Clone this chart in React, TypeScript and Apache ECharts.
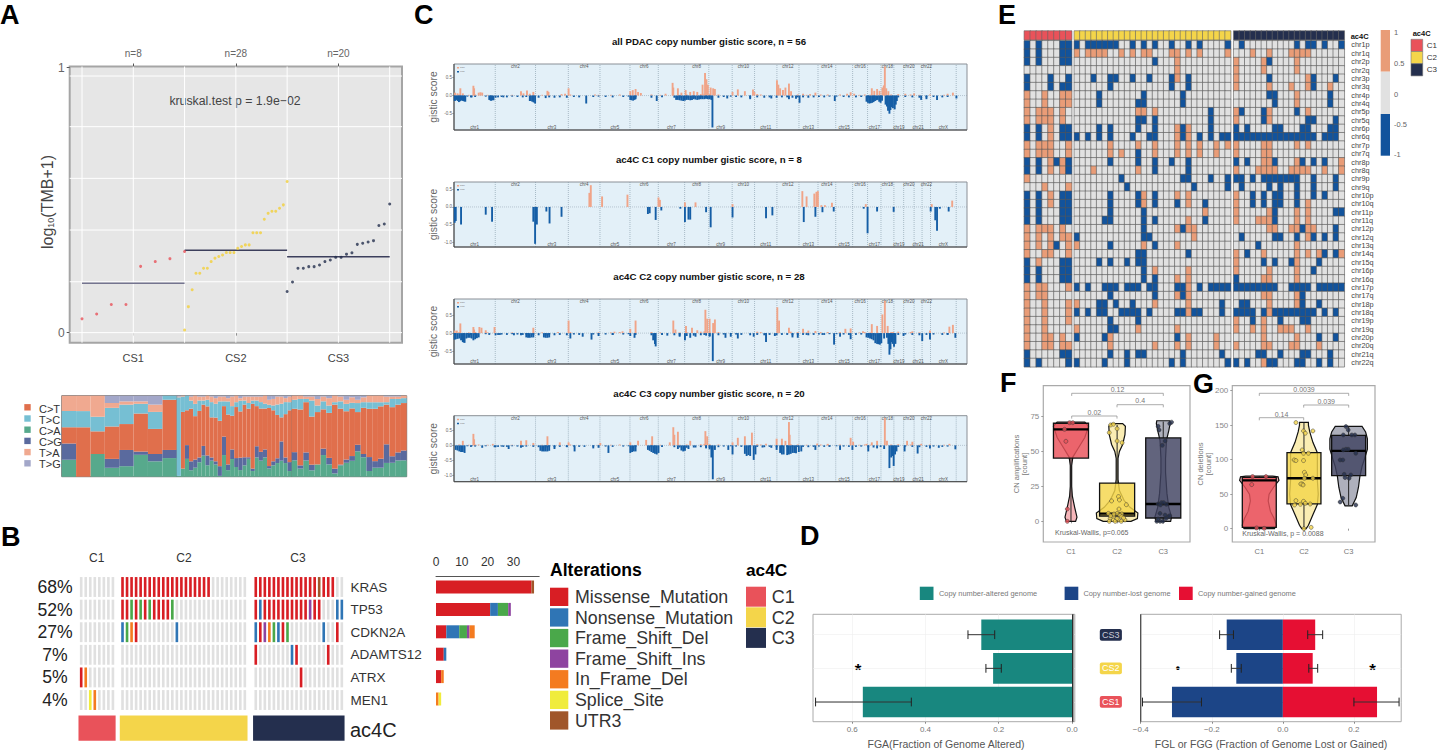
import React, { useEffect, useRef } from "react";
import * as echarts from "echarts";

const FF = "'Liberation Sans', Arial, sans-serif";
const C1 = "#e9525a", C2 = "#f4d54a", C3 = "#242f4e";

// ---------- Panel A ----------
const tmbC1 = [0.052, 0.07, 0.106, 0.106, 0.25, 0.268, 0.279, 0.306];
const tmbC2 = [0.01, 0.098, 0.162, 0.224, 0.224, 0.243, 0.243, 0.268, 0.281, 0.287, 0.293, 0.302, 0.302, 0.302, 0.318, 0.325, 0.331, 0.331, 0.377, 0.377, 0.377, 0.428, 0.45, 0.458, 0.458, 0.469, 0.482, 0.57];
const tmbC3 = [0.155, 0.191, 0.243, 0.243, 0.249, 0.249, 0.255, 0.268, 0.274, 0.284, 0.284, 0.296, 0.301, 0.333, 0.337, 0.342, 0.347, 0.404, 0.41, 0.485];
const tmbMeans = [0.186, 0.311, 0.286];
const tmbGridY = [0, 0.192, 0.387, 0.582, 0.777, 0.968];
const tmbGridX = [0.5, 1, 1.5, 2, 2.5, 3, 3.5];
const csNames = ["CS1", "CS2", "CS3"];
const csN = ["n=8", "n=28", "n=20"];
const substNames = ["C>A", "C>G", "C>T", "T>C", "T>A", "T>G"];
const substColors = ["#57a98c", "#5a6a9e", "#e06f4c", "#76bfd3", "#f0a990", "#a3a7c9"];
const substLegend = [["C>T", "#e06f4c"], ["T>C", "#76bfd3"], ["C>A", "#57a98c"], ["C>G", "#5a6a9e"], ["T>A", "#f0a990"], ["T>G", "#a3a7c9"]];
const substC1 = [[21, 20, 20, 20, 19, 0], [0, 0, 61, 20, 19, 0], [28, 0, 28, 18, 26, 0], [11, 11, 40, 23, 6, 9], [13, 20, 32, 24, 4, 7], [27, 4, 47, 12, 3, 7], [19, 9, 31, 21, 9, 11], [23, 10, 62, 5, 0, 0]];
const substC2 = [[1, 0, 0, 97, 1, 1], [10, 0, 70, 19, 1, 0], [22, 17, 43, 18, 0, 0], [8, 11, 65, 10, 5, 1], [11, 10, 53, 15, 10, 0], [18, 6, 58, 13, 5, 1], [26, 12, 51, 5, 5, 1], [14, 12, 60, 8, 5, 0], [20, 4, 50, 19, 7, 1], [15, 4, 54, 17, 7, 3], [1, 12, 56, 24, 6, 1], [27, 23, 38, 6, 6, 1], [8, 7, 61, 16, 4, 3], [22, 12, 42, 12, 12, 1], [12, 11, 63, 6, 8, 0], [8, 15, 56, 13, 3, 3], [14, 10, 65, 5, 5, 1], [22, 2, 60, 7, 8, 1], [7, 3, 80, 4, 5, 1], [24, 14, 50, 7, 5, 1], [20, 11, 54, 8, 7, 1], [24, 10, 51, 6, 10, 0], [10, 3, 71, 4, 6, 5], [14, 5, 63, 6, 8, 4], [17, 6, 54, 13, 10, 1], [20, 24, 30, 17, 9, 1], [17, 7, 54, 15, 5, 3], [7, 11, 64, 10, 7, 1]];
const substC3 = [[20, 10, 53, 11, 5, 0], [10, 4, 69, 13, 4, 0], [20, 10, 62, 4, 3, 1], [8, 7, 60, 20, 5, 1], [15, 0, 64, 8, 8, 4], [27, 8, 49, 10, 6, 1], [15, 8, 55, 9, 9, 3], [4, 6, 79, 3, 8, 0], [14, 1, 69, 9, 6, 1], [17, 4, 59, 9, 5, 5], [20, 6, 60, 7, 7, 2], [31, 8, 40, 11, 4, 5], [24, 4, 57, 7, 6, 2], [7, 17, 59, 8, 8, 0], [11, 8, 64, 8, 8, 0], [11, 11, 64, 5, 8, 0], [17, 23, 49, 3, 7, 1], [17, 8, 60, 10, 3, 1], [20, 10, 59, 7, 3, 1], [20, 12, 58, 6, 3, 0]];

// ---------- Panel B ----------
const genes = ["KRAS", "TP53", "CDKN2A", "ADAMTS12", "ATRX", "MEN1"];
const genePct = ["68%", "52%", "27%", "7%", "5%", "4%"];
const altNames = ["Missense_Mutation", "Nonsense_Mutation", "Frame_Shift_Del", "Frame_Shift_Ins", "In_Frame_Del", "Splice_Site", "UTR3"];
const altColors = ["#d81e24", "#2f75b5", "#4aa84a", "#8e44a0", "#f47b20", "#f0ec3c", "#a0562a"];
// [gene, group, sample, alteration]
const oncoCalls = [
  ...[0, 1, 2, 3, 4, 5, 6, 7, 8, 9, 10, 11, 12, 13, 14, 15, 16, 17, 18, 19].map((s) => [0, 1, s, 0]),
  ...[0, 1, 2, 3, 4, 5, 6, 7, 8, 9, 10, 11, 12, 13, 15, 16, 17].map((s) => [0, 2, s, 0]), [0, 2, 14, 6],
  [1, 1, 0, 0], [1, 1, 1, 0], [1, 1, 2, 2], [1, 1, 3, 0], [1, 1, 4, 2], [1, 1, 5, 0], [1, 1, 6, 2], [1, 1, 7, 0], [1, 1, 8, 0], [1, 1, 9, 0], [1, 1, 10, 0], [1, 1, 11, 2],
  [1, 2, 0, 0], [1, 2, 1, 1], [1, 2, 2, 0], [1, 2, 3, 0], [1, 2, 4, 0], [1, 2, 5, 0], [1, 2, 6, 0], [1, 2, 7, 0], [1, 2, 8, 0], [1, 2, 9, 0], [1, 2, 10, 0], [1, 2, 11, 0], [1, 2, 12, 3], [1, 2, 13, 0], [1, 2, 14, 0], [1, 2, 18, 1], [1, 2, 19, 1],
  [2, 1, 0, 1], [2, 1, 1, 2], [2, 1, 2, 4], [2, 1, 3, 0], [2, 1, 12, 1],
  [2, 2, 0, 1], [2, 2, 1, 0], [2, 2, 2, 3], [2, 2, 3, 4], [2, 2, 4, 2], [2, 2, 5, 1], [2, 2, 6, 0], [2, 2, 7, 2], [2, 2, 15, 1], [2, 2, 18, 0],
  [3, 2, 0, 0], [3, 2, 8, 1], [3, 2, 9, 0], [3, 2, 16, 0],
  [4, 0, 0, 0], [4, 0, 1, 4], [4, 2, 10, 0],
  [5, 0, 2, 5], [5, 0, 3, 4],
];
const groupSizes = [8, 28, 20];
const groupOffsets = [0, 9.12, 38.54];
const altCounts = [
  [37, 0, 0, 0, 0, 0, 1], [21, 3, 4, 1, 0, 0, 0], [4, 5, 3, 1, 2, 0, 0], [3, 1, 0, 0, 0, 0, 0], [2, 0, 0, 0, 1, 0, 0], [0, 0, 0, 0, 1, 1, 0],
];
const altTicks = [0, 10, 20, 30];

// ---------- Panel C (genome position in bins of 2.128 Mb) ----------
const chrMb = [249, 243, 198, 191, 181, 171, 159, 146, 141, 135, 135, 133, 115, 107, 102, 90, 81, 78, 59, 63, 48, 51, 155];
const chrNames = ["chr1", "chr2", "chr3", "chr4", "chr5", "chr6", "chr7", "chr8", "chr9", "chr10", "chr11", "chr12", "chr13", "chr14", "chr15", "chr16", "chr17", "chr18", "chr19", "chr20", "chr21", "chr22", "chrX"];
const mbPerBin = 2.128;
const lowDel = [[38, -0.03], [48, -0.05], [60, -0.04], [90, -0.03], [118, -0.06], [125, -0.05], [135, -0.04], [150, -0.05], [165, -0.03], [180, -0.04], [195, -0.05], [205, -0.04], [225, -0.05], [240, -0.06], [260, -0.07], [270, -0.05], [285, -0.06], [300, -0.05], [320, -0.06], [340, -0.04], [355, -0.05], [395, -0.04], [410, -0.03], [430, -0.04], [450, -0.05], [480, -0.04], [495, -0.03], [515, -0.05], [560, -0.06], [590, -0.05], [625, -0.06], [640, -0.07], [660, -0.08], [680, -0.07], [700, -0.06], [715, -0.07], [725, -0.08], [750, -0.06], [765, -0.04], [785, -0.03], [800, -0.04], [815, -0.05], [840, -0.06], [860, -0.05], [880, -0.06], [895, -0.05], [915, -0.06], [930, -0.05], [945, -0.05], [960, -0.06], [975, -0.05], [990, -0.05], [1005, -0.06], [1020, -0.05], [1035, -0.04], [1050, -0.05], [1065, -0.03], [1085, -0.03], [1105, -0.04], [1120, -0.05], [1140, -0.05], [1155, -0.04], [1175, -0.06], [1190, -0.07], [1210, -0.05], [1260, -0.05], [1280, -0.04], [1300, -0.05], [1320, -0.06], [1340, -0.05], [1360, -0.04], [1385, -0.05], [1400, -0.04]];
const lowAmp = [[15, 0.03], [42, 0.02], [60, 0.03], [95, 0.02], [165, 0.02], [250, 0.02], [330, 0.03], [410, 0.02], [445, 0.02], [470, 0.03], [560, 0.03], [585, 0.02], [640, 0.02], [660, 0.03], [700, 0.04], [710, 0.05], [725, 0.04], [750, 0.03], [860, 0.04], [870, 0.03], [955, 0.04], [975, 0.03], [1000, 0.02], [1040, 0.03], [1060, 0.03], [1095, 0.03], [1150, 0.02], [1165, 0.03], [1180, 0.02], [1240, 0.03], [1260, 0.04], [1295, 0.03], [1320, 0.02], [1350, 0.03], [1390, 0.02]];
const gainAll = [[3, 0.08], [10, 0.06], [18, 0.2], [25, 0.06], [55, 0.27], [57, 0.2], [70, 0.08], [75, 0.09], [80, 0.08], [190, 0.12], [197, 0.06], [207, 0.14], [215, 0.05], [225, 0.1], [265, 0.13], [268, 0.1], [305, 0.04], [315, 0.05], [325, 0.2], [400, 0.03], [500, 0.12], [507, 0.15], [515, 0.18], [522, 0.1], [530, 0.07], [600, 0.05], [620, 0.35], [622, 0.22], [635, 0.2], [645, 0.08], [657, 0.15], [670, 0.1], [680, 0.12], [690, 0.1], [705, 0.3], [712, 0.62], [716, 0.45], [720, 0.3], [728, 0.22], [735, 0.2], [740, 0.18], [790, 0.1], [805, 0.17], [825, 0.12], [848, 0.17], [852, 0.1], [916, 0.42], [920, 0.3], [925, 0.2], [933, 0.15], [940, 0.22], [950, 0.33], [956, 0.12], [990, 0.05], [1010, 0.04], [1025, 0.08], [1115, 0.05], [1125, 0.09], [1135, 0.05], [1185, 0.2], [1192, 0.13], [1200, 0.18], [1207, 0.13], [1215, 0.22], [1219, 0.28], [1222, 0.8], [1226, 0.2], [1232, 0.12], [1280, 0.05], [1305, 0.06], [1400, 0.05], [1415, 0.08]];
const lossAll = [[2, -0.15], [8, -0.12], [14, -0.18], [20, -0.13], [26, -0.15], [32, -0.17], [50, -0.05], [100, -0.12], [105, -0.14], [112, -0.13], [140, -0.05], [215, -0.15], [222, -0.17], [230, -0.22], [375, -0.22], [500, -0.12], [508, -0.14], [515, -0.1], [575, -0.15], [630, -0.12], [640, -0.13], [650, -0.15], [660, -0.12], [670, -0.13], [680, -0.1], [690, -0.12], [700, -0.1], [715, -0.09], [725, -0.1], [733, -0.88], [775, -0.08], [840, -0.1], [900, -0.08], [950, -0.1], [970, -0.09], [980, -0.2], [1080, -0.15], [1170, -0.17], [1178, -0.22], [1186, -0.2], [1194, -0.15], [1202, -0.12], [1210, -0.2], [1228, -0.3], [1235, -0.5], [1242, -0.32], [1250, -0.38], [1256, -0.15], [1325, -0.12], [1340, -0.1], [1370, -0.12], [1425, -0.08]];
const denseAll = [[4, -0.14], [11, -0.15], [17, -0.16], [23, -0.14], [29, -0.16], [103, -0.13], [108, -0.13], [218, -0.15], [226, -0.19], [503, -0.13], [512, -0.12], [635, -0.12], [645, -0.14], [655, -0.14], [665, -0.12], [675, -0.12], [685, -0.11], [695, -0.11], [705, -0.1], [710, -0.1], [720, -0.1], [730, -0.12], [1174, -0.2], [1182, -0.21], [1190, -0.18], [1198, -0.13], [1206, -0.17], [1214, -0.14], [1224, -0.25], [1231, -0.42], [1238, -0.4], [1245, -0.35], [1253, -0.25]];
const gainC1 = [[388, 0.62], [384, 0.4], [420, 0.3], [492, 0.35], [580, 0.27], [584, 0.2], [655, 0.13], [685, 0.13], [790, 0.08], [988, 0.45], [1000, 0.3], [1022, 0.38], [1028, 0.43], [1032, 0.45], [1042, 0.05], [1052, 0.05], [1072, 0.12], [1168, 0.08], [1355, 0.08], [1413, 0.18]];
const lossC1 = [[2, -0.45], [5, -0.4], [20, -0.5], [90, -0.22], [108, -0.42], [225, -0.42], [230, -1.05], [235, -0.5], [262, -0.13], [271, -0.47], [305, -0.28], [550, -0.2], [555, -0.18], [572, -0.37], [588, -0.1], [642, -0.05], [655, -0.43], [665, -0.36], [670, -0.36], [715, -0.15], [728, -0.58], [790, -0.3], [885, -0.32], [903, -0.24], [992, -0.43], [1025, -0.28], [1045, -0.15], [1077, -0.13], [1162, -0.05], [1173, -0.75], [1200, -0.13], [1247, -0.14], [1352, -0.13], [1365, -0.38], [1370, -0.68], [1378, -0.05], [1403, -0.13]];
const gainC2 = [[2, 0.07], [8, 0.07], [18, 0.27], [55, 0.17], [57, 0.1], [72, 0.17], [78, 0.15], [90, 0.08], [115, 0.17], [225, 0.15], [295, 0.03], [325, 0.35], [455, 0.04], [478, 0.05], [500, 0.12], [515, 0.35], [622, 0.35], [628, 0.1], [658, 0.2], [675, 0.15], [690, 0.08], [713, 0.65], [718, 0.4], [725, 0.4], [735, 0.28], [740, 0.38], [917, 0.72], [922, 0.35], [950, 0.15], [990, 0.12], [1005, 0.07], [1025, 0.06], [1110, 0.12], [1125, 0.13], [1160, 0.05], [1185, 0.25], [1200, 0.2], [1215, 0.52], [1222, 0.9], [1230, 0.2], [1245, 0.03], [1300, 0.05], [1350, 0.07], [1405, 0.18], [1415, 0.23]];
const lossC2 = [[1, -0.18], [5, -0.17], [15, -0.15], [25, -0.25], [30, -0.27], [40, -0.13], [55, -0.2], [70, -0.12], [100, -0.05], [130, -0.05], [170, -0.06], [190, -0.06], [210, -0.13], [225, -0.12], [260, -0.13], [330, -0.15], [365, -0.1], [390, -0.18], [410, -0.08], [450, -0.05], [500, -0.08], [512, -0.13], [572, -0.37], [605, -0.07], [640, -0.1], [655, -0.2], [670, -0.13], [685, -0.1], [710, -0.05], [725, -0.1], [734, -0.78], [770, -0.13], [785, -0.1], [805, -0.15], [850, -0.1], [885, -0.25], [910, -0.08], [960, -0.12], [975, -0.13], [1000, -0.05], [1045, -0.05], [1078, -0.32], [1095, -0.1], [1125, -0.17], [1175, -0.13], [1185, -0.17], [1200, -0.3], [1208, -0.32], [1228, -0.13], [1235, -0.6], [1240, -0.25], [1248, -0.38], [1275, -0.08], [1328, -0.22], [1350, -0.18], [1400, -0.05], [1422, -0.13]];
const denseC2 = [[3, -0.17], [10, -0.16], [20, -0.2], [28, -0.26], [35, -0.15], [45, -0.13], [50, -0.15], [60, -0.17], [65, -0.14], [205, -0.12], [215, -0.13], [220, -0.12], [255, -0.12], [265, -0.13], [270, -0.12], [565, -0.2], [570, -0.3], [1170, -0.12], [1180, -0.15], [1190, -0.2], [1195, -0.28], [1204, -0.31], [1212, -0.28], [1220, -0.15], [1232, -0.3], [1238, -0.45], [1244, -0.3], [1252, -0.3]];
const gainC3 = [[25, 0.15], [55, 0.38], [57, 0.2], [70, 0.03], [110, 0.05], [190, 0.15], [205, 0.17], [225, 0.08], [265, 0.3], [300, 0.1], [325, 0.1], [415, 0.08], [500, 0.1], [522, 0.15], [545, 0.18], [562, 0.3], [612, 0.1], [622, 0.6], [625, 0.35], [635, 0.45], [670, 0.15], [713, 0.47], [718, 0.3], [790, 0.1], [805, 0.25], [825, 0.3], [845, 0.42], [885, 0.05], [915, 0.22], [930, 0.22], [940, 0.15], [950, 0.77], [952, 0.35], [1030, 0.06], [1060, 0.05], [1125, 0.25], [1132, 0.12], [1170, 0.05], [1185, 0.1], [1200, 0.15], [1222, 0.9], [1228, 0.15], [1285, 0.15], [1300, 0.12], [1325, 0.05], [1405, 0.05]];
const lossC3 = [[5, -0.15], [15, -0.2], [30, -0.25], [50, -0.03], [80, -0.08], [115, -0.06], [140, -0.05], [155, -0.12], [190, -0.08], [250, -0.2], [260, -0.2], [285, -0.12], [320, -0.05], [342, -0.2], [370, -0.05], [395, -0.1], [410, -0.08], [438, -0.25], [500, -0.25], [510, -0.2], [550, -0.15], [565, -0.25], [575, -0.3], [635, -0.12], [650, -0.2], [665, -0.12], [685, -0.07], [715, -0.1], [725, -0.13], [730, -0.4], [734, -1.12], [740, -0.15], [778, -0.15], [790, -0.3], [830, -0.35], [850, -0.48], [875, -0.07], [900, -0.08], [915, -0.15], [930, -0.3], [950, -0.3], [965, -0.25], [978, -0.22], [1025, -0.15], [1065, -0.05], [1095, -0.15], [1130, -0.15], [1175, -0.2], [1200, -0.1], [1220, -0.12], [1235, -0.75], [1247, -0.68], [1255, -0.2], [1278, -0.2], [1315, -0.27], [1350, -0.1], [1375, -0.08], [1422, -0.13]];
const denseC3 = [[10, -0.17], [20, -0.22], [25, -0.22], [245, -0.18], [255, -0.2], [265, -0.2], [270, -0.18], [505, -0.22], [515, -0.2], [555, -0.18], [560, -0.22], [570, -0.28], [580, -0.25], [645, -0.17], [655, -0.18], [825, -0.28], [835, -0.32], [840, -0.35], [855, -0.3], [925, -0.25], [935, -0.3], [945, -0.32], [955, -0.28], [960, -0.25], [970, -0.26], [985, -0.2], [1240, -0.4], [1243, -0.35], [1251, -0.3]];
const gisticTitles = ["all PDAC copy number gistic score, n = 56", "ac4C C1 copy number gistic score, n = 8", "ac4C C2 copy number gistic score, n = 28", "ac4C C3 copy number gistic score, n = 20"];

// ---------- Panel D ----------
const fgaMean = [0.571, 0.2154, 0.2476];
const fgaErr = [[0.4386, 0.7], [0.193, 0.235], [0.211, 0.284]];
const fglMean = [-0.312, -0.131, -0.158];
const fglErr = [[-0.395, -0.229], [-0.145, -0.117], [-0.178, -0.139]];
const fggMean = [0.265, 0.084, 0.091];
const fggErr = [[0.2, 0.327], [0.073, 0.098], [0.07, 0.112]];

// ---------- Panel E ----------
const cnaRows = ["chr1p", "chr1q", "chr2p", "chr2q", "chr3p", "chr3q", "chr4p", "chr4q", "chr5p", "chr5q", "chr6p", "chr6q", "chr7p", "chr7q", "chr8p", "chr8q", "chr9p", "chr9q", "chr10p", "chr10q", "chr11p", "chr11q", "chr12p", "chr12q", "chr13q", "chr14q", "chr15q", "chr16p", "chr16q", "chr17p", "chr17q", "chr18p", "chr18q", "chr19p", "chr19q", "chr20p", "chr20q", "chr21q", "chr22q"];
const cnaC1 = ["b.b...bb", "b.b...bb", "b.b...bb", "........", "b...b..b", "b...b.bb", "o..o..oo", "o..o..oo", "o.ooo.o.", "o.ooo.o.", "b.b.o.bb", "b.b.o.bb", "o.ooo..o", "o.ooo..o", "b.b.obob", "b.b.o.ob", "o.......", "...o...o", "b.b.o.bb", "b.b.o.bb", "b.b...bb", "b.b...bb", "o.ooo.o.", "o.o.o.oo", "o.o.ob.o", "o..oo..o", "b.o...bb", "b.b...bb", "b.b...bb", "o.oo...o", "o.oo....", "o..o...o", "o..o...o", "o..o...o", "o..o....", "o..oo.o.", "o..oo.oo", "b.....bb", "b.b....b"];
const cnaC2Loss = [[0, 2, 3, 4, 5, 6, 7, 10, 12, 14, 17, 20, 22, 27], [], [14], [], [3, 6, 7, 10, 13, 17, 20], [6, 17, 20], [4, 12, 19], [4, 11, 12, 19], [24], [11, 12, 14, 24], [4, 6, 11, 14, 19, 24], [0, 2, 4, 6, 10, 13, 14, 19, 22, 24, 26, 27], [], [11], [6, 11, 14, 17, 20], [14, 20], [8, 19, 20, 24, 27], [9, 21, 27], [6, 11, 14], [6, 11, 14, 18, 23], [6, 12], [5, 6, 12, 14, 23], [12, 19], [0, 12, 13], [6, 14], [11, 12, 20], [4, 6, 9, 11, 12], [12], [12, 14], [0, 2, 5, 6, 7, 9, 10, 11, 13, 14, 18, 19, 22, 24, 25, 26, 27], [6, 14, 19], [4, 5, 7, 10, 26], [0, 2, 4, 5, 8, 9, 10, 11, 13, 18, 19, 21, 22, 26], [6, 11], [6, 7], [0, 5, 18], [], [6, 9, 11, 12, 19, 26], [0, 5, 9, 17, 19, 27]];
const cnaC2Gain = [[], [0, 2, 3, 4, 5, 8, 10, 12, 13, 17, 18, 20, 22, 27], [18], [18], [18], [], [], [], [11, 12, 14], [], [18, 20], [18, 20], [6, 11, 14, 18, 20, 22, 25, 27], [6, 8, 14, 18, 20, 22, 25], [], [3, 11], [], [], [12, 18, 20], [12, 20], [23], [20], [18, 20, 21], [21], [0, 12, 18], [], [], [14, 20], [18, 20], [20], [18, 20], [0, 14, 20], [20], [], [0, 11, 18], [6, 20, 25], [6, 14, 18, 20, 25], [], []];
const cnaC3Loss = [[1, 11, 13, 14, 16, 19], [], [6], [], [6, 14, 18], [14], [6, 7, 17], [7, 17], [1, 5, 11], [5, 13, 14, 18], [0, 2, 7, 8, 12, 13, 17, 18], [0, 1, 2, 3, 4, 5, 6, 7, 8, 9, 10, 11, 12, 13, 14, 16, 17, 18], [], [], [0, 2, 7, 12, 14, 16], [], [0, 1, 3, 5, 6, 7, 8, 9, 10, 11, 14, 18], [1, 6, 8, 11, 14, 18], [3, 5, 7, 8, 11, 14, 16], [3, 5, 7, 8, 11], [7, 18, 19], [7], [12, 18], [1, 7, 8, 11, 14, 16, 18], [4], [2, 16, 18], [5, 7, 10, 15], [14], [0], [0, 1, 2, 3, 4, 5, 6, 7, 10, 11, 12, 13, 15, 16, 17, 18, 19], [12], [1, 2, 12, 15], [0, 1, 2, 3, 5, 7, 8, 9, 10, 11, 12, 13, 14, 16, 18], [3, 8, 12, 13], [], [15, 18], [], [4, 5, 8, 12, 13, 17], [0, 2, 6, 7, 11, 12, 15, 17]];
const cnaC3Gain = [[], [3, 6, 10, 11, 12, 13], [0, 5, 11], [0, 5, 11], [0, 13], [0, 6, 10, 13, 17], [11], [11], [0, 6, 13], [0, 6], [], [], [0, 5, 6, 11, 13], [0, 5, 6], [5, 6, 11, 19], [0, 4, 5, 6, 7, 10, 11, 12, 13, 16, 19], [], [], [0], [0, 13], [0, 6, 11, 13], [0, 4, 5, 6, 11, 13], [6, 7, 10, 11, 13, 14], [13], [11], [0, 5, 11, 13, 15, 19], [0, 11], [0, 6, 11], [5, 6, 11], [], [5, 6, 11], [6, 11], [6], [0, 5], [0, 3, 5, 8, 9, 10, 13], [5, 11], [0, 5, 6, 10, 11, 15], [], [5]];
const colorbarTicks = ["1", "0.5", "0", "-0.5", "-1"];

// ---------- Panels F, G ----------
const ampPoints = [
  [[0.97, 70.6], [1.04, 70.6], [0.86, 65.9], [0.89, 57.3], [0.92, 8.8], [0.92, 0]],
  [[1.86, 69], [1.92, 69.5], [1.83, 63.5], [2, 66.3], [2, 57.5], [2.11, 56.3], [2.03, 17.7], [2.05, 15.3], [1.88, 14.6], [2.2, 11.9], [2.04, 8.8], [1.81, 5.7], [2, 5.7], [2.1, 5.3], [2.06, 4.3], [1.92, 3.3], [2.1, 3.3], [1.85, 2.1], [1.92, 1], [2.03, 1], [2.17, 1], [1.83, 0], [1.96, 0], [2.09, 0], [2, 2], [1.86, 4], [1.93, 5.2], [2.14, 2.4]],
  [[3.18, 71], [3.14, 70], [2.89, 68], [2.91, 65.4], [3.04, 57.5], [2.98, 54.4], [2.96, 13.4], [2.89, 12.4], [3.07, 12.2], [3.11, 3.3], [3.14, 4], [3.04, 4.5], [2.86, 0], [2.93, 0], [2.99, 0], [2.89, 1.7], [3.06, 2.1], [3.01, 13.4], [2.94, 11.7], [2.93, 5.7]],
];
const delPoints = [
  [[0.85, 75.4], [1.15, 75.4], [0.83, 63.8], [0.94, 1], [1.11, 0.5]],
  [[1.82, 153.6], [1.99, 141.5], [2.03, 138.2], [2.2, 141.5], [1.96, 114], [1.99, 109.2], [2.1, 109.2], [1.78, 99.5], [1.82, 98.6], [1.99, 98.6], [2.01, 81.6], [2.04, 77.8], [2.2, 73], [2.01, 73], [1.96, 64.7], [1.93, 64.7], [1.82, 40.6], [1.99, 39.6], [2.03, 36.7], [1.79, 34.3], [1.92, 35.3], [2.14, 35.7], [2, 0], [2.16, 1.9], [1.98, 63.3]],
  [[2.94, 147.8], [2.99, 143], [2.88, 135.7], [3.14, 135.7], [2.99, 115], [2.94, 115], [3.16, 109.2], [2.81, 99.5], [2.87, 99.5], [2.9, 78.7], [2.92, 73.9], [3.01, 73], [3.05, 77.8], [2.87, 44], [2.81, 38.6], [3.16, 34.3], [3.07, 135.7], [2.88, 114]],
];
// [min, q1, median, q3, max]
const ampBox = [[0, 45.3, 65.9, 70.2, 71], [0, 3.8, 5.5, 27.4, 69], [0, 2.4, 12.4, 59.7, 71.4]];
const delBox = [[0, 2, 70, 74.4, 76], [0, 36, 73, 110, 153.6], [34, 76.8, 112.6, 135, 148]];
// [value, half width]
const ampViolin = [
  [[0, 0.1], [3, 0.13], [10, 0.08], [18, 0.03], [25, 0.015], [40, 0.015], [46, 0.04], [52, 0.15], [60, 0.3], [68, 0.38], [71, 0.3]],
  [[0, 0.3], [2, 0.44], [6, 0.45], [10, 0.28], [15, 0.15], [22, 0.05], [30, 0.02], [45, 0.02], [50, 0.05], [55, 0.12], [62, 0.17], [68, 0.18], [70, 0.12]],
  [[0, 0.16], [3, 0.18], [10, 0.12], [20, 0.08], [35, 0.05], [45, 0.05], [58, 0.07], [65, 0.12], [70, 0.15], [72, 0.14]],
];
const delViolin = [
  [[0, 0.34], [5, 0.38], [15, 0.33], [25, 0.25], [40, 0.2], [50, 0.22], [60, 0.32], [70, 0.44], [75, 0.42], [76, 0.3]],
  [[0, 0.05], [5, 0.1], [20, 0.2], [35, 0.3], [50, 0.32], [70, 0.3], [90, 0.3], [110, 0.3], [125, 0.2], [140, 0.13], [150, 0.1], [154, 0.1]],
  [[33, 0.08], [45, 0.17], [60, 0.22], [75, 0.25], [90, 0.3], [100, 0.35], [115, 0.42], [130, 0.42], [140, 0.38], [148, 0.3]],
];
const groupNames = ["C1", "C2", "C3"];

const buildOption = () => {
  const grids: any[] = [], xs: any[] = [], ys: any[] = [], series: any[] = [], g: any[] = [], topXs: any[] = [], vms: any[] = [];
  const base = { show: false, splitLine: { show: false } };
  const addGrid = (l: number, t: number, w: number, h: number, x: any, y: any, extra: any = {}) => {
    const i = grids.length;
    grids.push({ left: l, top: t, width: w, height: h, show: false, ...extra });
    xs.push({ gridIndex: i, type: "value", ...base, ...x });
    ys.push({ gridIndex: i, type: "value", ...base, ...y });
    return i;
  };
  const shapes = (grid: number, items: any[]) => {
    series.push({
      type: "custom", coordinateSystem: "cartesian2d", xAxisIndex: grid, yAxisIndex: grid, silent: true, clip: false,
      data: items.map(() => [0, 0]),
      renderItem: (p: any, api: any) => {
        const it = items[p.dataIndex];
        if (it.k === "rect") {
          const a = api.coord([it.x0, it.y0]), b = api.coord([it.x1, it.y1]);
          return { type: "rect", shape: { x: Math.min(a[0], b[0]), y: Math.min(a[1], b[1]), width: Math.abs(a[0] - b[0]), height: Math.abs(a[1] - b[1]) }, style: it.s };
        }
        if (it.k === "line") {
          const a = api.coord([it.x0, it.y0]), b = api.coord([it.x1, it.y1]);
          return { type: "line", shape: { x1: a[0], y1: a[1], x2: b[0], y2: b[1] }, style: it.s };
        }
        if (it.k === "poly") {
          return { type: "polygon", shape: { points: it.pts.map((q: number[]) => api.coord(q)) }, style: it.s };
        }
        const a = api.coord([it.x, it.y]);
        return { type: "text", x: a[0], y: a[1], style: { text: it.t, align: "center", textAlign: "center", verticalAlign: "middle", textVerticalAlign: "middle", fontFamily: FF, ...it.s } };
      },
    });
  };
  const txt = (text: string, x: number, y: number, size: number, o: any = {}) => {
    g.push({
      type: "text", x, y, silent: true, rotation: o.rot || 0,
      style: { text, fontSize: size, fontFamily: FF, fontWeight: o.bold ? "bold" : "normal", fill: o.color || "#333", align: o.align || "left", textAlign: o.align || "left", verticalAlign: "middle", textVerticalAlign: "middle", ...(o.style || {}) },
    });
  };
  const box = (x: number, y: number, w: number, h: number, fill: string, stroke?: string) => {
    g.push({ type: "rect", silent: true, shape: { x, y, width: w, height: h }, style: { fill, stroke: stroke || "none", lineWidth: stroke ? 0.6 : 0 } });
  };

  // panel letters
  [["A", 0, 15], ["B", 1, 537], ["C", 414, 15], ["D", 800, 536], ["E", 998, 15], ["F", 1000, 383], ["G", 1193, 384]].forEach(([t, x, y]: any) => txt(t, x, y, 27, { bold: true, color: "#000" }));

  // ---------- A ----------
  const a = addGrid(69.7, 66.5, 332.3, 276.2,
    { show: true, min: 0.38, max: 3.62, axisLine: { show: false }, axisTick: { length: 3, customValues: [1, 2, 3], lineStyle: { color: "#555" } }, axisLabel: { customValues: [1, 2, 3], formatter: (v: number) => csNames[v - 1], fontSize: 11, color: "#444", margin: 10 } },
    { show: true, min: -0.038, max: 1.004, axisLine: { show: false }, axisTick: { length: 3, customValues: [0, 1], lineStyle: { color: "#555" } }, axisLabel: { customValues: [0, 1], fontSize: 12, color: "#666", margin: 5 } },
    { show: true, backgroundColor: "#e6e6e6", borderColor: "#a5a5a5", borderWidth: 2 });
  shapes(a, [
    ...tmbGridX.map((x) => ({ k: "line", x0: x, x1: x, y0: -0.038, y1: 1.004, s: { stroke: "#fff", lineWidth: 1 } })),
    ...tmbGridY.map((y) => ({ k: "line", x0: 0.38, x1: 3.62, y0: y, y1: y, s: { stroke: "#fff", lineWidth: 1 } })),
    ...tmbMeans.map((m, i) => ({ k: "line", x0: i + 0.5, x1: i + 1.5, y0: m, y1: m, s: { stroke: i === 0 ? "#74748f" : "#3c3f5c", lineWidth: 1.5 } })),
  ]);
  [tmbC1, tmbC2, tmbC3].forEach((arr, gi) => {
    series.push({ type: "scatter", xAxisIndex: a, yAxisIndex: a, silent: true, symbolSize: 3, itemStyle: { color: [C1, "#f2cf3a", C3][gi] }, data: arr.map((v, i) => [gi + 0.5 + i / (arr.length - 1), v]) });
  });
  topXs.push({ gridIndex: a, type: "value", position: "top", min: 0.38, max: 3.62, splitLine: { show: false }, axisLine: { show: false }, axisTick: { length: 3, customValues: [1, 2, 3], lineStyle: { color: "#555" } }, axisLabel: { customValues: [1, 2, 3], formatter: (v: number) => csN[v - 1], fontSize: 10, color: "#666", margin: 8 } });
  txt("kruskal.test p = 1.9e\u221202", 235, 101, 12.3, { color: "#444", align: "center" });
  g.push({ type: "text", x: 47, y: 202, rotation: Math.PI / 2, silent: true, style: { text: "{a|log}{b|10}{a|(TMB+1)}", align: "center", textAlign: "center", verticalAlign: "middle", textVerticalAlign: "middle", fontFamily: FF, rich: { a: { fontSize: 16, fill: "#444", color: "#444", fontFamily: FF }, b: { fontSize: 9, fill: "#444", color: "#444", fontFamily: FF, verticalAlign: "bottom" } } } });
  substLegend.forEach(([n, c], i) => {
    box(24.3, 407.3 + i * 11.2 - 3.2, 6.4, 6.4, c);
    txt(n, 39, 409 + i * 11, 11, { color: "#333" });
  });
  [[substC1, 61.7], [substC2, 176.7], [substC3, 291.7]].forEach(([rows, left]: any) => {
    const sg = addGrid(left, 395.7, 115, 81, { type: "category", data: rows.map((_: any, i: number) => String(i)) }, { min: 0, max: 100 }, { show: true, borderColor: "#6e6e6e", borderWidth: 1 });
    substNames.forEach((n, si) => {
      series.push({ type: "bar", name: n, xAxisIndex: sg, yAxisIndex: sg, stack: "s" + sg, silent: true, barCategoryGap: 0, itemStyle: { color: substColors[si] }, data: rows.map((r: number[]) => (r[si] * 100) / r.reduce((p, q) => p + q, 0)) });
    });
  });

  // ---------- B ----------
  const onco = addGrid(76, 570, 272, 175, { min: -1.148, max: 58.9 }, { min: -0.752, max: 6.99, inverse: true });
  const stripes: any[] = [];
  genes.forEach((_, r) => groupSizes.forEach((n, gi) => {
    for (let s = 0; s < n; s++) {
      const x = groupOffsets[gi] + s;
      const call = oncoCalls.find((c) => c[0] === r && c[1] === gi && c[2] === s);
      stripes.push({ k: "rect", x0: x - 0.29, x1: x + 0.29, y0: r - 0.44, y1: r + 0.44, s: { fill: call ? altColors[call[3]] : "#e0e0e0" } });
    }
  }));
  groupSizes.forEach((n, gi) => stripes.push({ k: "rect", x0: groupOffsets[gi] - 0.6, x1: groupOffsets[gi] + n - 0.4, y0: 5.68, y1: 6.8, s: { fill: [C1, C2, C3][gi] } }));
  shapes(onco, stripes);
  genes.forEach((n, i) => {
    txt(n, 350.5, 587 + i * 22.6, 13.5, { color: "#333" });
    txt(genePct[i], 55, 587 + i * 22.6, 17.6, { color: "#222", align: "center" });
  });
  groupNames.forEach((n, i) => txt(n, [96.7, 184, 298][i], 558, 12, { color: "#333", align: "center" }));
  txt("ac4C", 350, 730, 20, { color: "#222" });

  const altG = addGrid(436, 575.8, 103.2, 134.4,
    { show: true, position: "top", min: 0, max: 40, axisLine: { show: true, lineStyle: { color: "#555" } }, axisTick: { length: 5, customValues: altTicks, lineStyle: { color: "#555" } }, axisLabel: { customValues: altTicks, fontSize: 12, color: "#333", margin: 8 } },
    { type: "category", inverse: true, data: genes });
  altNames.forEach((n, ai) => {
    series.push({ type: "bar", name: n, xAxisIndex: altG, yAxisIndex: altG, stack: "alt", silent: true, barWidth: 13, itemStyle: { color: altColors[ai] }, data: altCounts.map((r) => r[ai]) });
  });
  txt("Alterations", 550, 570, 17.6, { bold: true, color: "#000" });
  altNames.forEach((n, i) => {
    box(550, 587.7 + i * 20.6, 18.3, 18.3, altColors[i]);
    txt(n, 575, 597 + i * 20.6, 17.8, { color: "#333" });
  });
  txt("ac4C", 746, 570, 17.3, { bold: true, color: "#000" });
  groupNames.forEach((n, i) => {
    box(746, 586.7 + i * 20.6, 20, 20, [C1, C2, C3][i]);
    txt(n, 771.7, 597 + i * 20.6, 18, { color: "#333" });
  });

  // ---------- C ----------
  const ends: number[] = [];
  chrMb.reduce((acc, mb) => { ends.push(acc + mb / mbPerBin); return acc + mb / mbPerBin; }, 0);
  const gist = [
    { top: 64, bottom: 130, min: -0.95, max: 0.87, ticks: [-0.5, 0, 0.5], gain: [...gainAll, ...lowAmp], loss: [...lossAll, ...lowDel, ...denseAll] },
    { top: 182, bottom: 247, min: -1.14, max: 0.71, ticks: [-1, -0.5, 0, 0.5], gain: gainC1, loss: lossC1 },
    { top: 299, bottom: 364, min: -0.86, max: 0.95, ticks: [-0.5, 0, 0.5], gain: [...gainC2, ...lowAmp], loss: [...lossC2, ...lowDel, ...denseC2] },
    { top: 415.7, bottom: 481.7, min: -1.2, max: 0.98, ticks: [-1, -0.5, 0, 0.5], gain: [...gainC3, ...lowAmp], loss: [...lossC3, ...lowDel, ...denseC3] },
  ];
  gist.forEach((p, i) => {
    const fmt = (v: number) => v.toFixed(1);
    const gi = addGrid(454, p.top, 513, p.bottom - p.top,
      { min: 0, max: 1455 },
      { show: true, min: p.min, max: p.max, axisLine: { show: false }, axisTick: { length: 2, customValues: p.ticks, lineStyle: { color: "#777", width: 0.5 } }, axisLabel: { customValues: p.ticks, formatter: fmt, fontSize: 4.5, color: "#666", margin: 2 } },
      { show: true, backgroundColor: "#e3f0f8", borderColor: "#8a8f96", borderWidth: 1 });
    const range = p.max - p.min;
    shapes(gi, [
      ...ends.map((e) => ({ k: "line", x0: e, x1: e, y0: p.min, y1: p.max, s: { stroke: "#7f95a5", lineWidth: 0.6, lineDash: [1, 1] } })),
      { k: "line", x0: 0, x1: 1455, y0: 0, y1: 0, s: { stroke: "#8a9aa8", lineWidth: 0.5, lineDash: [1, 1] } },
      { k: "line", x0: 0, x1: 0, y0: p.min, y1: p.max, s: { stroke: "#444", lineWidth: 1 } },
      { k: "line", x0: 0, x1: 1455, y0: p.min, y1: p.min, s: { stroke: "#444", lineWidth: 1 } },
    ]);
    series.push({ type: "bar", name: "gain", xAxisIndex: gi, yAxisIndex: gi, silent: true, barWidth: 1.9, barGap: "-100%", itemStyle: { color: "#f0a488" }, data: p.gain });
    series.push({ type: "bar", name: "loss", xAxisIndex: gi, yAxisIndex: gi, silent: true, barWidth: 1.9, barGap: "-100%", itemStyle: { color: "#155ea6" }, data: p.loss });
    shapes(gi, chrNames.map((n, c) => ({ k: "text", x: ends[c] - chrMb[c] / mbPerBin / 2, y: c % 2 === 1 ? p.max - 0.04 * range : p.min + 0.035 * range, t: n, s: { fontSize: 4.5, fill: "#555" } })));
    txt(gisticTitles[i], 709, [41.7, 159, 276, 393][i], 9.7, { bold: true, color: "#111", align: "center" });
    txt("gistic score", 433.5, (p.top + p.bottom) / 2, 10.3, { color: "#666", align: "center", rot: Math.PI / 2 });
    box(457, p.top + 3, 2, 1.6, "#f0a488");
    box(457, p.top + 7, 2, 1.6, "#155ea6");
    txt("gain", 460, p.top + 3.8, 2.5, { color: "#777" });
    txt("loss", 460, p.top + 7.8, 2.5, { color: "#777" });
  });

  // ---------- D ----------
  const yD = { show: true, min: 0.415, max: 3.606, axisLine: { show: false }, axisLabel: { show: false }, axisTick: { length: 2, customValues: [1, 2, 3], lineStyle: { color: "#aaa" } }, splitLine: { show: true, lineStyle: { color: "#eee", width: 0.6 } } };
  const xD = (min: number, max: number, ticks: number[], inverse: boolean) => ({ show: true, min, max, inverse, axisLine: { show: false }, axisTick: { length: 2, customValues: ticks, lineStyle: { color: "#888" } }, axisLabel: { customValues: ticks, formatter: (v: number) => v.toFixed(1).replace("-", "\u2212"), fontSize: 8, color: "#777", margin: 4 }, splitLine: { show: true, lineStyle: { color: "#eee", width: 0.6 } } });
  const dl = addGrid(813, 614.3, 261.8, 107.4, xD(-0.0076, 0.707, [0, 0.2, 0.4, 0.6], true), yD, { show: true, borderColor: "#aaa", borderWidth: 1 });
  const dr = addGrid(1140.7, 614.3, 260.5, 107.4, xD(-0.4, 0.333, [-0.4, -0.2, 0, 0.2], false), yD, { show: true, borderColor: "#aaa", borderWidth: 1 });
  const errs = (vals: number[][]) => vals.flatMap((e, i) => {
    const y = i + 1, cap = 0.13, s = { stroke: "#222", lineWidth: 1 };
    return [{ k: "line", x0: e[0], x1: e[1], y0: y, y1: y, s: { stroke: "#333", lineWidth: 1 } }, { k: "line", x0: e[0], x1: e[0], y0: y - cap, y1: y + cap, s }, { k: "line", x0: e[1], x1: e[1], y0: y - cap, y1: y + cap, s }];
  });
  const hb = (v: number, i: number, fill: string) => ({ k: "rect", x0: 0, x1: v, y0: i + 1 - 0.455, y1: i + 1 + 0.455, s: { fill } });
  shapes(dl, [...fgaMean.map((v, i) => hb(v, i, "#18877f")), ...errs(fgaErr),
    { k: "line", x0: -0.002, x1: -0.002, y0: 0.415, y1: 3.606, s: { stroke: "#222", lineWidth: 1.4 } }]);
  shapes(dr, [...fglMean.map((v, i) => hb(v, i, "#1c4587")), ...fggMean.map((v, i) => hb(v, i, "#e60f33")), ...errs(fglErr), ...errs(fggErr),
    { k: "line", x0: -0.4, x1: -0.4, y0: 0.415, y1: 3.606, s: { stroke: "#444", lineWidth: 1.2 } }]);
  txt("*", 858, 670.5, 17, { bold: true, color: "#000", align: "center" });
  txt("\u2022", 1177.9, 668, 12, { bold: true, color: "#000", align: "center" });
  txt("*", 1372.6, 670.5, 17, { bold: true, color: "#000", align: "center" });
  [["CS3", 629, C3], ["CS2", 662.5, C2], ["CS1", 696, C1]].forEach(([n, y, c]: any) => {
    g.push({ type: "rect", silent: true, shape: { x: 1099.8, y, width: 22.1, height: 11.7, r: 2 }, style: { fill: c } });
    txt(n, 1110.8, y + 5.9, 9, { color: n === "CS3" ? "#c9ccd8" : "#fff", align: "center" });
  });
  [[919.8, "#18877f", 939, "Copy number-altered genome"], [1064.6, "#1c4587", 1083.4, "Copy number-lost genome"], [1179, "#e60f33", 1198, "Copy number-gained genome"]].forEach(([x, c, tx, n]: any) => {
    box(x, 586.7, 13.7, 13.3, c);
    txt(n, tx, 593.3, 7.4, { color: "#777" });
  });
  txt("FGA(Fraction of Genome Altered)", 946, 743.5, 10.5, { color: "#555", align: "center" });
  txt("FGL or FGG (Fraction of Genome Lost or Gained)", 1271, 743.5, 10.5, { color: "#555", align: "center" });

  // ---------- E ----------
  const cell = (gains: number[][], losses: number[][], c: number, r: number) => (losses[r].includes(c) ? -1 : gains[r].includes(c) ? 1 : 0);
  const heatBlocks: any[] = [
    { left: 1024.3, w: 47.4, n: 8, col: C1, val: (c: number, r: number) => ({ b: -1, o: 1, ".": 0 } as any)[cnaC1[r][c]] },
    { left: 1074.3, w: 156.4, n: 28, col: C2, val: (c: number, r: number) => cell(cnaC2Gain, cnaC2Loss, c, r) },
    { left: 1233.7, w: 110.6, n: 20, col: C3, val: (c: number, r: number) => cell(cnaC3Gain, cnaC3Loss, c, r) },
  ];
  heatBlocks.forEach((b, bi) => {
    const cats = Array.from({ length: b.n }, (_, i) => String(i));
    const hg = addGrid(b.left, 40.8, b.w, 326,
      { type: "category", data: cats },
      bi === 2
        ? { show: true, type: "category", inverse: true, position: "right", data: cnaRows, axisLine: { show: false }, axisTick: { show: false }, axisLabel: { interval: 0, fontSize: 7.3, color: "#444", margin: 7 } }
        : { type: "category", inverse: true, data: cnaRows });
    const cells: any[] = [];
    cnaRows.forEach((_, r) => cats.forEach((__, c) => cells.push([c, r, b.val(c, r)])));
    vms.push({ type: "piecewise", show: false, dimension: 2, seriesIndex: series.length, pieces: [{ value: -1, color: "#12539c" }, { value: 0, color: "#e1e1e1" }, { value: 1, color: "#e99c77" }] });
    series.push({ type: "heatmap", xAxisIndex: hg, yAxisIndex: hg, silent: true, itemStyle: { borderColor: "#555", borderWidth: 0.6 }, data: cells });
    const sg = addGrid(b.left, 31, b.w, 8.7, { type: "category", data: cats }, { type: "category", data: ["ac4C"] });
    vms.push({ type: "piecewise", show: false, dimension: 2, seriesIndex: series.length, pieces: [{ value: 1, color: b.col }] });
    series.push({ type: "heatmap", xAxisIndex: sg, yAxisIndex: sg, silent: true, itemStyle: { borderColor: "#666", borderWidth: 0.6 }, data: cats.map((_, c) => [c, 0, 1]) });
  });
  txt("ac4C", 1350.7, 36, 7.5, { bold: true, color: "#111" });
  box(1380.7, 30, 9.3, 41.7, "#e99c77");
  box(1380.7, 71.7, 9.3, 42.3, "#e1e1e1");
  box(1380.7, 114, 9.3, 41.7, "#12539c");
  colorbarTicks.forEach((t, i) => txt(t, 1394, [32.3, 63, 94, 124, 154][i], 7.5, { color: "#666" }));
  txt("ac4C", 1412.7, 33.5, 7.5, { bold: true, color: "#111" });
  groupNames.forEach((n, i) => {
    box(1411, 39.3 + i * 12.2, 11.7, 12.2, [C1, C2, C3][i], "#777");
    txt(n, 1426.7, 45.4 + i * 12.2, 8, { color: "#333" });
  });

  // ---------- F, G ----------
  const fills = [C1, C2, "#3f4260"];
  const panelBP = (left: number, w: number, yMin: number, yMax: number, xMin: number, xMax: number, ticks: number[], boxes: number[][], violins: number[][][], pts: number[][][]) => {
    const gi = addGrid(left, 385.7, w, 156.3,
      { show: true, min: xMin, max: xMax, axisLine: { show: false }, axisTick: { length: 2, customValues: [1, 2, 3], lineStyle: { color: "#999" } }, axisLabel: { customValues: [1, 2, 3], formatter: (v: number) => groupNames[v - 1], fontSize: 7.5, color: "#777", margin: 5 } },
      { show: true, min: yMin, max: yMax, axisLine: { show: false }, axisTick: { length: 2, customValues: ticks, lineStyle: { color: "#999" } }, axisLabel: { customValues: ticks, fontSize: 8, color: "#888", margin: 4 } },
      { show: true, borderColor: "#aaa", borderWidth: 1.2 });
    const items: any[] = [];
    violins.forEach((v, i) => {
      const cx = i + 1;
      items.push({ k: "poly", pts: [...v.map((q) => [cx - q[1], q[0]]), ...v.slice().reverse().map((q) => [cx + q[1], q[0]])], s: { fill: fills[i], fillOpacity: 0.42, stroke: "#111", lineWidth: 1.2 } });
    });
    boxes.forEach((b, i) => {
      const cx = i + 1;
      items.push({ k: "line", x0: cx, x1: cx, y0: b[0], y1: b[1], s: { stroke: "#222", lineWidth: 1 } });
      items.push({ k: "line", x0: cx, x1: cx, y0: b[3], y1: b[4], s: { stroke: "#222", lineWidth: 1 } });
      items.push({ k: "rect", x0: cx - 0.38, x1: cx + 0.38, y0: b[1], y1: b[3], s: { fill: fills[i], fillOpacity: 0.82, stroke: "#111", lineWidth: 1.3 } });
      items.push({ k: "line", x0: cx - 0.38, x1: cx + 0.38, y0: b[2], y1: b[2], s: { stroke: "#000", lineWidth: 2.3 } });
    });
    shapes(gi, items);
    pts.forEach((arr, i) => {
      series.push({ type: "scatter", xAxisIndex: gi, yAxisIndex: gi, silent: true, symbolSize: 4, itemStyle: { color: [C1, C2, C3][i], borderColor: "#333", borderWidth: 0.6 }, data: arr });
    });
  };
  panelBP(1043.3, 146.7, -14.8, 97.1, 0.4, 3.58, [0, 25, 50, 75], ampBox, ampViolin, ampPoints);
  panelBP(1232.3, 142.7, -19.3, 207, 0.396, 3.59, [0, 50, 100, 150, 200], delBox, delViolin, delPoints);
  const bracket = (x0: number, x1: number, y: number, label: string, ly: number) => {
    g.push({ type: "polyline", silent: true, shape: { points: [[x0, y + 2.6], [x0, y], [x1, y], [x1, y + 2.6]] }, style: { stroke: "#888", lineWidth: 0.7, fill: "none" } });
    txt(label, (x0 + x1) / 2, ly, 7, { color: "#777", align: "center" });
  };
  bracket(1071.7, 1117, 416, "0.02", 412.7);
  bracket(1117, 1163.3, 404.7, "0.4", 400.7);
  bracket(1071.7, 1163.3, 393.3, "0.12", 389.3);
  bracket(1259.3, 1303.7, 417.7, "0.14", 414.3);
  bracket(1303.7, 1348.7, 405, "0.039", 401);
  bracket(1259.3, 1348.7, 393.3, "0.0039", 389);
  txt("Kruskal-Wallis, p=0.065", 1055, 532.7, 7, { color: "#666" });
  txt("Kruskal-Wallis, p = 0.0088", 1242.3, 533, 7, { color: "#666" });
  txt("CN amplifications", 1016, 464, 7.5, { color: "#777", align: "center", rot: Math.PI / 2 });
  txt("[count]", 1024, 464, 7.5, { color: "#777", align: "center", rot: Math.PI / 2 });
  txt("CN deletions", 1200, 464, 7.5, { color: "#777", align: "center", rot: Math.PI / 2 });
  txt("[count]", 1208, 464, 7.5, { color: "#777", align: "center", rot: Math.PI / 2 });

  return {
    animation: false, backgroundColor: "#fff", textStyle: { fontFamily: FF },
    grid: grids, xAxis: [...xs, ...topXs], yAxis: ys, series, visualMap: vms, graphic: { elements: g },
  };
};

export default function App() {
  const ref = useRef<HTMLDivElement>(null);
  useEffect(() => {
    const chart = echarts.init(ref.current as HTMLDivElement, null, { renderer: "svg" });
    chart.setOption(buildOption() as any);
    return () => chart.dispose();
  }, []);
  return <div ref={ref} style={{ position: "fixed", left: 0, top: 0, width: 1438, height: 752 }} />;
}
